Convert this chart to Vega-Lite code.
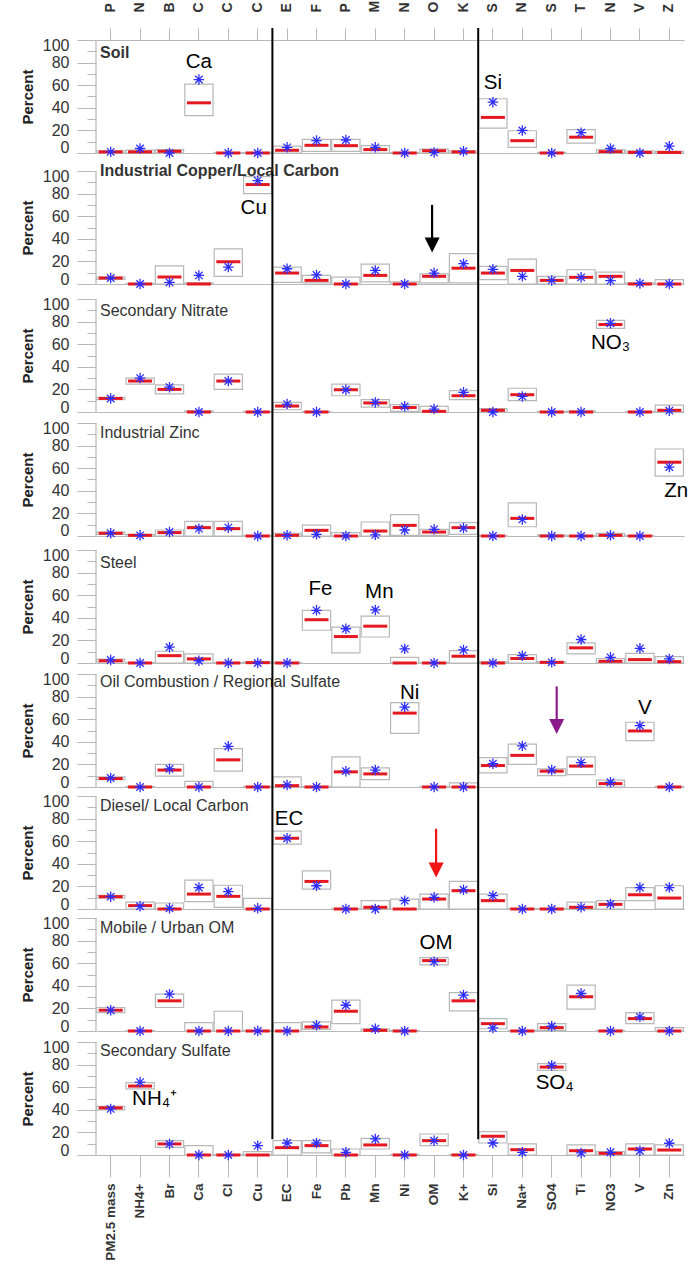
{
"$schema": "https://vega.github.io/schema/vega-lite/v6.json",
"padding": {"left": 20, "top": 0, "right": 8, "bottom": 6},
"spacing": 0,
"bounds": "flush",
"config": {"font": "Liberation Sans", "view": {"stroke": null},
 "axis": {"domainColor": "#b8b8b8", "tickColor": "#b8b8b8", "labelColor": "#333333", "titleColor": "#222222"},
 "axisY": {"labelPadding": 8, "titleFontSize": 15, "titleFontWeight": "bold", "titlePadding": 7, "labelOverlap": false, "tickCount": 30},
 "axisX": {"labelFontWeight": "bold", "labelAngle": 270, "labelOverlap": false, "labelLimit": 300}},
"datasets": {"p": [
{"s":"soil","el":"PM2.5 mass","lo":0,"hi":2,"med":1,"pt":1},
{"s":"soil","el":"NH4+","lo":0,"hi":2.5,"med":1,"pt":4},
{"s":"soil","el":"Br","lo":0,"hi":3,"med":1.5,"pt":0},
{"s":"soil","el":"Ca","lo":33,"hi":61,"med":44.4,"pt":65},
{"s":"soil","el":"Cl","lo":0,"hi":0.5,"med":0,"pt":0},
{"s":"soil","el":"Cu","lo":0,"hi":0.5,"med":0,"pt":0},
{"s":"soil","el":"EC","lo":0,"hi":6,"med":2.4,"pt":5},
{"s":"soil","el":"Fe","lo":1.5,"hi":12,"med":6.8,"pt":11},
{"s":"soil","el":"Pb","lo":1.5,"hi":12,"med":6.5,"pt":11.5},
{"s":"soil","el":"Mn","lo":0,"hi":6.5,"med":3,"pt":5},
{"s":"soil","el":"Ni","lo":0,"hi":0.5,"med":0,"pt":0},
{"s":"soil","el":"OM","lo":0,"hi":3.5,"med":2,"pt":0.5},
{"s":"soil","el":"K+","lo":0,"hi":2,"med":1,"pt":1.5},
{"s":"soil","el":"Si","lo":22,"hi":48,"med":31.5,"pt":45},
{"s":"soil","el":"Na+","lo":5,"hi":19.7,"med":10.9,"pt":20},
{"s":"soil","el":"SO4","lo":0,"hi":0.5,"med":0,"pt":0},
{"s":"soil","el":"Ti","lo":8.8,"hi":20.6,"med":14,"pt":18},
{"s":"soil","el":"NO3","lo":0,"hi":3,"med":1.2,"pt":4},
{"s":"soil","el":"V","lo":0,"hi":2,"med":0.5,"pt":0},
{"s":"soil","el":"Zn","lo":0,"hi":1.5,"med":0.5,"pt":6},
{"s":"cu","el":"PM2.5 mass","lo":4,"hi":6,"med":5.3,"pt":5.3},
{"s":"cu","el":"NH4+","lo":0,"hi":0.5,"med":0,"pt":0},
{"s":"cu","el":"Br","lo":0,"hi":16,"med":6.2,"pt":1.5},
{"s":"cu","el":"Ca","lo":0,"hi":1,"med":0,"pt":7.6},
{"s":"cu","el":"Cl","lo":6.8,"hi":31,"med":19.7,"pt":15},
{"s":"cu","el":"Cu","lo":80,"hi":95,"med":88,"pt":91.5},
{"s":"cu","el":"EC","lo":1.5,"hi":15,"med":9.7,"pt":13.5},
{"s":"cu","el":"Fe","lo":1,"hi":7.6,"med":3.2,"pt":8},
{"s":"cu","el":"Pb","lo":0,"hi":6,"med":0,"pt":0},
{"s":"cu","el":"Mn","lo":1.8,"hi":17.6,"med":7.6,"pt":12},
{"s":"cu","el":"Ni","lo":0,"hi":2,"med":0,"pt":0},
{"s":"cu","el":"OM","lo":1,"hi":9,"med":6.8,"pt":9.7},
{"s":"cu","el":"K+","lo":1,"hi":26.8,"med":14,"pt":18},
{"s":"cu","el":"Si","lo":3.8,"hi":15.6,"med":9.7,"pt":13},
{"s":"cu","el":"Na+","lo":0,"hi":22,"med":12,"pt":6.8},
{"s":"cu","el":"SO4","lo":0,"hi":6.8,"med":3.2,"pt":3.2},
{"s":"cu","el":"Ti","lo":0,"hi":12.6,"med":5.9,"pt":5.9},
{"s":"cu","el":"NO3","lo":0,"hi":10.6,"med":6.8,"pt":3},
{"s":"cu","el":"V","lo":0,"hi":1,"med":0,"pt":0.5},
{"s":"cu","el":"Zn","lo":0,"hi":3.8,"med":0,"pt":0},
{"s":"no3","el":"PM2.5 mass","lo":11,"hi":13,"med":12,"pt":12},
{"s":"no3","el":"NH4+","lo":24.7,"hi":30,"med":27.4,"pt":30},
{"s":"no3","el":"Br","lo":16,"hi":24,"med":20,"pt":22},
{"s":"no3","el":"Ca","lo":0,"hi":1,"med":0,"pt":0},
{"s":"no3","el":"Cl","lo":20,"hi":33.5,"med":27.4,"pt":27.4},
{"s":"no3","el":"Cu","lo":0,"hi":0.5,"med":0,"pt":0},
{"s":"no3","el":"EC","lo":2,"hi":8.5,"med":5.3,"pt":7},
{"s":"no3","el":"Fe","lo":0,"hi":0.5,"med":0,"pt":0},
{"s":"no3","el":"Pb","lo":14.4,"hi":24.7,"med":19.7,"pt":19.7},
{"s":"no3","el":"Mn","lo":4.4,"hi":11,"med":8,"pt":8.5},
{"s":"no3","el":"Ni","lo":0.6,"hi":6.5,"med":4,"pt":5},
{"s":"no3","el":"OM","lo":0,"hi":5,"med":0.6,"pt":2.6},
{"s":"no3","el":"K+","lo":11,"hi":19,"med":14.4,"pt":17.4},
{"s":"no3","el":"Si","lo":0,"hi":3,"med":1.5,"pt":0},
{"s":"no3","el":"Na+","lo":10,"hi":21,"med":15.3,"pt":13.8},
{"s":"no3","el":"SO4","lo":0,"hi":0.5,"med":0,"pt":0},
{"s":"no3","el":"Ti","lo":0,"hi":1,"med":0,"pt":0},
{"s":"no3","el":"NO3","lo":74,"hi":81,"med":77.4,"pt":78.5},
{"s":"no3","el":"V","lo":0,"hi":0.5,"med":0,"pt":0},
{"s":"no3","el":"Zn","lo":0,"hi":6,"med":1.5,"pt":1.2},
{"s":"zn","el":"PM2.5 mass","lo":1.5,"hi":3.5,"med":2.4,"pt":2.4},
{"s":"zn","el":"NH4+","lo":0,"hi":1.5,"med":0.6,"pt":0.6},
{"s":"zn","el":"Br","lo":0,"hi":5.3,"med":3,"pt":3.5},
{"s":"zn","el":"Ca","lo":0,"hi":13,"med":7.4,"pt":6.5},
{"s":"zn","el":"Cl","lo":0,"hi":13,"med":6.5,"pt":7.4},
{"s":"zn","el":"Cu","lo":0,"hi":0.5,"med":0,"pt":0},
{"s":"zn","el":"EC","lo":0,"hi":2.4,"med":0.6,"pt":0.6},
{"s":"zn","el":"Fe","lo":0,"hi":9.7,"med":5,"pt":1.5},
{"s":"zn","el":"Pb","lo":0,"hi":3,"med":0,"pt":0},
{"s":"zn","el":"Mn","lo":0,"hi":12.4,"med":4.4,"pt":1},
{"s":"zn","el":"Ni","lo":0.6,"hi":19,"med":9.4,"pt":5.3},
{"s":"zn","el":"OM","lo":0.6,"hi":5.9,"med":3.5,"pt":5.9},
{"s":"zn","el":"K+","lo":1.5,"hi":11.8,"med":7.4,"pt":7},
{"s":"zn","el":"Si","lo":0,"hi":0.5,"med":0,"pt":0},
{"s":"zn","el":"Na+","lo":8.2,"hi":29.4,"med":15.6,"pt":14.7},
{"s":"zn","el":"SO4","lo":0,"hi":1,"med":0,"pt":0},
{"s":"zn","el":"Ti","lo":0,"hi":0.5,"med":0,"pt":0},
{"s":"zn","el":"NO3","lo":0,"hi":2.4,"med":0.6,"pt":0.6},
{"s":"zn","el":"V","lo":0,"hi":0.5,"med":0,"pt":0},
{"s":"zn","el":"Zn","lo":53,"hi":77,"med":65.3,"pt":61},
{"s":"steel","el":"PM2.5 mass","lo":1,"hi":3.5,"med":2,"pt":2.7},
{"s":"steel","el":"NH4+","lo":0,"hi":0.5,"med":0,"pt":0},
{"s":"steel","el":"Br","lo":0,"hi":10.4,"med":6.5,"pt":14},
{"s":"steel","el":"Ca","lo":0,"hi":8,"med":3.6,"pt":2},
{"s":"steel","el":"Cl","lo":0,"hi":0.5,"med":0,"pt":0},
{"s":"steel","el":"Cu","lo":0,"hi":1,"med":0.3,"pt":0},
{"s":"steel","el":"EC","lo":0,"hi":0.5,"med":0,"pt":0},
{"s":"steel","el":"Fe","lo":29,"hi":46.6,"med":38.3,"pt":46.6},
{"s":"steel","el":"Pb","lo":9,"hi":31.8,"med":23.4,"pt":30.3},
{"s":"steel","el":"Mn","lo":23,"hi":41.5,"med":32.6,"pt":47},
{"s":"steel","el":"Ni","lo":0,"hi":5,"med":0,"pt":12.5},
{"s":"steel","el":"OM","lo":0,"hi":0.5,"med":0,"pt":0},
{"s":"steel","el":"K+","lo":0,"hi":11,"med":6,"pt":11.6},
{"s":"steel","el":"Si","lo":0,"hi":1,"med":0,"pt":0},
{"s":"steel","el":"Na+","lo":0,"hi":7.4,"med":4,"pt":6.5},
{"s":"steel","el":"SO4","lo":0,"hi":1,"med":0.6,"pt":0.6},
{"s":"steel","el":"Ti","lo":8,"hi":17.8,"med":13.4,"pt":20.8},
{"s":"steel","el":"NO3","lo":0,"hi":4,"med":1.5,"pt":5},
{"s":"steel","el":"V","lo":0,"hi":8.6,"med":3,"pt":13},
{"s":"steel","el":"Zn","lo":0,"hi":5.6,"med":1.2,"pt":3.6},
{"s":"oil","el":"PM2.5 mass","lo":6.5,"hi":9,"med":7.5,"pt":8},
{"s":"oil","el":"NH4+","lo":0,"hi":0.5,"med":0,"pt":0},
{"s":"oil","el":"Br","lo":9.6,"hi":20,"med":15,"pt":16},
{"s":"oil","el":"Ca","lo":0,"hi":5,"med":0,"pt":0},
{"s":"oil","el":"Cl","lo":14,"hi":34,"med":24,"pt":36},
{"s":"oil","el":"Cu","lo":0,"hi":0.5,"med":0,"pt":0},
{"s":"oil","el":"EC","lo":0,"hi":9,"med":1.2,"pt":1.8},
{"s":"oil","el":"Fe","lo":0,"hi":0.5,"med":0,"pt":0},
{"s":"oil","el":"Pb","lo":0,"hi":26.6,"med":13.4,"pt":14},
{"s":"oil","el":"Mn","lo":6.6,"hi":17,"med":11.6,"pt":15},
{"s":"oil","el":"Ni","lo":47.5,"hi":74.6,"med":65.4,"pt":70.7},
{"s":"oil","el":"OM","lo":0,"hi":0.5,"med":0,"pt":0},
{"s":"oil","el":"K+","lo":0,"hi":3.6,"med":0,"pt":0},
{"s":"oil","el":"Si","lo":12.5,"hi":26,"med":19,"pt":20.6},
{"s":"oil","el":"Na+","lo":20,"hi":38,"med":28,"pt":36.4},
{"s":"oil","el":"SO4","lo":10,"hi":16,"med":14,"pt":15},
{"s":"oil","el":"Ti","lo":11,"hi":26.6,"med":18.5,"pt":21.5},
{"s":"oil","el":"NO3","lo":0,"hi":6,"med":3,"pt":4.2},
{"s":"oil","el":"V","lo":41,"hi":57.3,"med":49.6,"pt":54.3},
{"s":"oil","el":"Zn","lo":0,"hi":0.5,"med":0,"pt":0},
{"s":"diesel","el":"PM2.5 mass","lo":9.5,"hi":12,"med":10.9,"pt":10.9},
{"s":"diesel","el":"NH4+","lo":0,"hi":6,"med":3,"pt":2.4},
{"s":"diesel","el":"Br","lo":0,"hi":5.3,"med":0,"pt":0.6},
{"s":"diesel","el":"Ca","lo":6.5,"hi":25.6,"med":13.2,"pt":19},
{"s":"diesel","el":"Cl","lo":1.5,"hi":21,"med":11.2,"pt":15.3},
{"s":"diesel","el":"Cu","lo":0,"hi":9.4,"med":0,"pt":0.6},
{"s":"diesel","el":"EC","lo":57.4,"hi":69,"med":62.6,"pt":62.6},
{"s":"diesel","el":"Fe","lo":17.6,"hi":33.8,"med":24.4,"pt":20.6},
{"s":"diesel","el":"Pb","lo":0,"hi":0.5,"med":0,"pt":0},
{"s":"diesel","el":"Mn","lo":0,"hi":7.4,"med":1.5,"pt":0},
{"s":"diesel","el":"Ni","lo":0,"hi":8.8,"med":0,"pt":7.4},
{"s":"diesel","el":"OM","lo":0,"hi":13.2,"med":8.8,"pt":10.3},
{"s":"diesel","el":"K+","lo":0,"hi":24.4,"med":16.2,"pt":17},
{"s":"diesel","el":"Si","lo":0,"hi":13.2,"med":7.4,"pt":11.8},
{"s":"diesel","el":"Na+","lo":0,"hi":0.5,"med":0,"pt":0},
{"s":"diesel","el":"SO4","lo":0,"hi":0.5,"med":0,"pt":0},
{"s":"diesel","el":"Ti","lo":0,"hi":6,"med":1.5,"pt":1.5},
{"s":"diesel","el":"NO3","lo":0,"hi":7.4,"med":4.1,"pt":4.4},
{"s":"diesel","el":"V","lo":7.4,"hi":19,"med":12.6,"pt":19},
{"s":"diesel","el":"Zn","lo":0,"hi":20.6,"med":9.7,"pt":19},
{"s":"mobile","el":"PM2.5 mass","lo":16.3,"hi":20.8,"med":18.4,"pt":18.4},
{"s":"mobile","el":"NH4+","lo":0,"hi":0.5,"med":0,"pt":0},
{"s":"mobile","el":"Br","lo":20.8,"hi":32.6,"med":26.7,"pt":32.6},
{"s":"mobile","el":"Ca","lo":0,"hi":7.4,"med":0,"pt":0},
{"s":"mobile","el":"Cl","lo":0,"hi":17.5,"med":0,"pt":0},
{"s":"mobile","el":"Cu","lo":0,"hi":0.5,"med":0,"pt":0},
{"s":"mobile","el":"EC","lo":0,"hi":7.4,"med":0,"pt":0},
{"s":"mobile","el":"Fe","lo":1.5,"hi":8,"med":3.6,"pt":5},
{"s":"mobile","el":"Pb","lo":6.5,"hi":27.3,"med":17.5,"pt":22.8},
{"s":"mobile","el":"Mn","lo":0,"hi":2,"med":0.6,"pt":2},
{"s":"mobile","el":"Ni","lo":0,"hi":0.5,"med":0,"pt":0},
{"s":"mobile","el":"OM","lo":58.5,"hi":65,"med":62.3,"pt":61.4},
{"s":"mobile","el":"K+","lo":17.8,"hi":34,"med":26.7,"pt":31.8},
{"s":"mobile","el":"Si","lo":2,"hi":11,"med":6.5,"pt":2.7},
{"s":"mobile","el":"Na+","lo":0,"hi":0.5,"med":0,"pt":0},
{"s":"mobile","el":"SO4","lo":0.6,"hi":6.5,"med":3,"pt":4.2},
{"s":"mobile","el":"Ti","lo":19.3,"hi":40.6,"med":30.3,"pt":33.2},
{"s":"mobile","el":"NO3","lo":0,"hi":0.5,"med":0,"pt":0},
{"s":"mobile","el":"V","lo":6.5,"hi":16.3,"med":11,"pt":12.5},
{"s":"mobile","el":"Zn","lo":0,"hi":3,"med":0,"pt":0},
{"s":"so4","el":"PM2.5 mass","lo":40,"hi":43,"med":41.7,"pt":40.8},
{"s":"so4","el":"NH4+","lo":58.6,"hi":64,"med":61,"pt":64.5},
{"s":"so4","el":"Br","lo":6.8,"hi":12.7,"med":9.8,"pt":9.8},
{"s":"so4","el":"Ca","lo":0,"hi":8.3,"med":0,"pt":0},
{"s":"so4","el":"Cl","lo":0,"hi":0.5,"med":0,"pt":0},
{"s":"so4","el":"Cu","lo":0,"hi":3,"med":0,"pt":8.3},
{"s":"so4","el":"EC","lo":0,"hi":12.7,"med":6.5,"pt":10.6},
{"s":"so4","el":"Fe","lo":1.8,"hi":12.7,"med":8.3,"pt":10.6},
{"s":"so4","el":"Pb","lo":0,"hi":5.3,"med":0,"pt":2.4},
{"s":"so4","el":"Mn","lo":5.3,"hi":14.8,"med":8.9,"pt":14.2},
{"s":"so4","el":"Ni","lo":0,"hi":0.5,"med":0,"pt":0},
{"s":"so4","el":"OM","lo":8.3,"hi":18.6,"med":12.7,"pt":12.7},
{"s":"so4","el":"K+","lo":0,"hi":0.5,"med":0,"pt":0},
{"s":"so4","el":"Si","lo":10.6,"hi":20.7,"med":16.6,"pt":10.6},
{"s":"so4","el":"Na+","lo":0,"hi":9.8,"med":4.7,"pt":2.4},
{"s":"so4","el":"SO4","lo":74.9,"hi":80.8,"med":77.8,"pt":79.3},
{"s":"so4","el":"Ti","lo":0,"hi":8.9,"med":3.8,"pt":1.8},
{"s":"so4","el":"NO3","lo":0,"hi":3,"med":1.5,"pt":2.4},
{"s":"so4","el":"V","lo":0,"hi":9.8,"med":5.3,"pt":3.8},
{"s":"so4","el":"Zn","lo":0,"hi":8.9,"med":4.4,"pt":10.4}
]},
"vconcat": [
{"width": 588, "height": 131,
 "encoding": {"x": {"field": "el", "type": "nominal", "scale": {"domain": ["PM2.5 mass","NH4+","Br","Ca","Cl","Cu","EC","Fe","Pb","Mn","Ni","OM","K+","Si","Na+","SO4","Ti","NO3","V","Zn"], "paddingInner": 0, "paddingOuter": 0}, "axis": {"orient": "top", "title": null, "labelExpr": "substring(datum.label, 0, 1)", "tickSize": 12, "labelPadding": 16, "labelFontSize": 14}}},
 "layer": [
  {"data": {"name": "p"}, "transform": [{"filter": "datum.s === 'soil'"}], "layer": [
   {"mark": {"type": "bar", "width": {"band": 0.96}, "fill": "#ffffff", "fillOpacity": 0, "stroke": "#b8b8b8", "strokeWidth": 1.2}, "encoding": {"y": {"field": "hi", "type": "quantitative", "scale": {"domain": [-15.93, 100], "nice": false, "zero": false}, "axis": {"title": "Percent", "values": [0,10,20,30,40,50,60,70,80,90,100], "tickCount": 30, "labelExpr": "datum.value % 20 === 0 ? datum.label : ''", "labelFontSize": {"condition": {"test": "datum.value % 20 === 0", "value": 16}, "value": 0}, "labelOffset": {"condition": [{"test": "datum.value === 0", "value": -5}, {"test": "datum.value === 100", "value": 5}], "value": 0}, "tickSize": {"condition": {"test": "datum.value % 20 === 0", "value": 19}, "value": 9}, "domain": false, "grid": true, "gridColor": "#b8b8b8", "gridWidth": 1.2, "gridOpacity": {"condition": {"test": "datum.value === 0", "value": 1}, "value": 0}, "titleY": 56.5, "labelOverlap": false}}, "y2": {"field": "lo"}}},
   {"mark": {"type": "tick", "color": "#e4181e", "thickness": 3, "size": 24, "opacity": 1}, "encoding": {"y": {"field": "med", "type": "quantitative"}}},
   {"mark": {"type": "point", "shape": "M0,-1L0,1M-1,0L1,0M-0.71,-0.71L0.71,0.71M-0.71,0.71L0.71,-0.71", "filled": false, "color": "#2f2fff", "strokeWidth": 1.3, "size": 110, "opacity": 1}, "encoding": {"y": {"field": "pt", "type": "quantitative"}}}
  ]},
  {"data": {"values": [{"el": "PM2.5 mass"}]}, "mark": {"type": "rule", "color": "#b8b8b8", "strokeWidth": 1.2}, "encoding": {"x": {"field": "el", "type": "nominal", "bandPosition": 0}, "y": {"datum": 0}, "y2": {"datum": 100}}},
  {"data": {"values": [{"el": "PM2.5 mass", "t": "Soil"}]}, "mark": {"type": "text", "align": "left", "baseline": "middle", "dx": 4, "fontSize": 16, "fontWeight": "bold", "color": "#333333"}, "encoding": {"x": {"field": "el", "type": "nominal", "bandPosition": 0}, "y": {"datum": 88.5}, "text": {"field": "t"}}},
  {"data": {"values": [{"el": "Ca", "t": "Ca"}]}, "mark": {"type": "text", "baseline": "middle", "fontSize": 20.5, "color": "#000000"}, "encoding": {"y": {"datum": 80.5}, "text": {"field": "t"}}},
  {"data": {"values": [{"el": "Si", "t": "Si"}]}, "mark": {"type": "text", "baseline": "middle", "fontSize": 20.5, "color": "#000000"}, "encoding": {"y": {"datum": 62}, "text": {"field": "t"}}},
  {"data": {"values": [{"el": "Cu"}, {"el": "K+"}]}, "mark": {"type": "rule", "color": "#000000", "strokeWidth": 2}, "encoding": {"x": {"field": "el", "type": "nominal", "bandPosition": 1}, "y": {"datum": 110.6}, "y2": {"datum": -15.93}}}
 ]},
{"width": 588, "height": 128,
 "encoding": {"x": {"field": "el", "type": "nominal", "scale": {"domain": ["PM2.5 mass","NH4+","Br","Ca","Cl","Cu","EC","Fe","Pb","Mn","Ni","OM","K+","Si","Na+","SO4","Ti","NO3","V","Zn"], "paddingInner": 0, "paddingOuter": 0}, "axis": null}},
 "layer": [
  {"data": {"name": "p"}, "transform": [{"filter": "datum.s === 'cu'"}], "layer": [
   {"mark": {"type": "bar", "width": {"band": 0.96}, "fill": "#ffffff", "fillOpacity": 0, "stroke": "#b8b8b8", "strokeWidth": 1.2}, "encoding": {"y": {"field": "hi", "type": "quantitative", "scale": {"domain": [-13.27, 100], "nice": false, "zero": false}, "axis": {"title": "Percent", "values": [0,10,20,30,40,50,60,70,80,90,100], "tickCount": 30, "labelExpr": "datum.value % 20 === 0 ? datum.label : ''", "labelFontSize": {"condition": {"test": "datum.value % 20 === 0", "value": 16}, "value": 0}, "labelOffset": {"condition": [{"test": "datum.value === 0", "value": -5}, {"test": "datum.value === 100", "value": 5}], "value": 0}, "tickSize": {"condition": {"test": "datum.value % 20 === 0", "value": 19}, "value": 9}, "domain": false, "grid": true, "gridColor": "#b8b8b8", "gridWidth": 1.2, "gridOpacity": {"condition": {"test": "datum.value === 0", "value": 1}, "value": 0}, "titleY": 56.5, "labelOverlap": false}}, "y2": {"field": "lo"}}},
   {"mark": {"type": "tick", "color": "#e4181e", "thickness": 3, "size": 24, "opacity": 1}, "encoding": {"y": {"field": "med", "type": "quantitative"}}},
   {"mark": {"type": "point", "shape": "M0,-1L0,1M-1,0L1,0M-0.71,-0.71L0.71,0.71M-0.71,0.71L0.71,-0.71", "filled": false, "color": "#2f2fff", "strokeWidth": 1.3, "size": 110, "opacity": 1}, "encoding": {"y": {"field": "pt", "type": "quantitative"}}}
  ]},
  {"data": {"values": [{"el": "PM2.5 mass"}]}, "mark": {"type": "rule", "color": "#b8b8b8", "strokeWidth": 1.2}, "encoding": {"x": {"field": "el", "type": "nominal", "bandPosition": 0}, "y": {"datum": 0}, "y2": {"datum": 100}}},
  {"data": {"values": [{"el": "PM2.5 mass", "t": "Industrial Copper/Local Carbon"}]}, "mark": {"type": "text", "align": "left", "baseline": "middle", "dx": 4, "fontSize": 16, "fontWeight": "bold", "color": "#333333"}, "encoding": {"x": {"field": "el", "type": "nominal", "bandPosition": 0}, "y": {"datum": 100}, "text": {"field": "t"}}},
  {"data": {"values": [{"el": "Cu", "t": "Cu"}]}, "mark": {"type": "text", "baseline": "middle", "dx": -4, "fontSize": 20.5, "color": "#000000"}, "encoding": {"y": {"datum": 67}, "text": {"field": "t"}}},
  {"data": {"values": [{"el": "Cu"}, {"el": "K+"}]}, "mark": {"type": "rule", "color": "#000000", "strokeWidth": 2}, "encoding": {"x": {"field": "el", "type": "nominal", "bandPosition": 1}, "y": {"datum": 100}, "y2": {"datum": -13.27}}},
  {"data": {"values": [{"el": "OM"}]}, "layer": [
   {"mark": {"type": "rule", "color": "#000000", "strokeWidth": 2.2, "xOffset": -2}, "encoding": {"y": {"datum": 70}, "y2": {"datum": 38}}},
   {"mark": {"type": "point", "shape": "M-1,-1L1,-1L0,1Z", "filled": true, "color": "#000000", "size": 225, "opacity": 1, "xOffset": -2}, "encoding": {"y": {"datum": 34.6}}}
  ]}
 ]},
{"width": 588, "height": 124,
 "encoding": {"x": {"field": "el", "type": "nominal", "scale": {"domain": ["PM2.5 mass","NH4+","Br","Ca","Cl","Cu","EC","Fe","Pb","Mn","Ni","OM","K+","Si","Na+","SO4","Ti","NO3","V","Zn"], "paddingInner": 0, "paddingOuter": 0}, "axis": null}},
 "layer": [
  {"data": {"name": "p"}, "transform": [{"filter": "datum.s === 'no3'"}], "layer": [
   {"mark": {"type": "bar", "width": {"band": 0.96}, "fill": "#ffffff", "fillOpacity": 0, "stroke": "#b8b8b8", "strokeWidth": 1.2}, "encoding": {"y": {"field": "hi", "type": "quantitative", "scale": {"domain": [-9.73, 100], "nice": false, "zero": false}, "axis": {"title": "Percent", "values": [0,10,20,30,40,50,60,70,80,90,100], "tickCount": 30, "labelExpr": "datum.value % 20 === 0 ? datum.label : ''", "labelFontSize": {"condition": {"test": "datum.value % 20 === 0", "value": 16}, "value": 0}, "labelOffset": {"condition": [{"test": "datum.value === 0", "value": -5}, {"test": "datum.value === 100", "value": 5}], "value": 0}, "tickSize": {"condition": {"test": "datum.value % 20 === 0", "value": 19}, "value": 9}, "domain": false, "grid": true, "gridColor": "#b8b8b8", "gridWidth": 1.2, "gridOpacity": {"condition": {"test": "datum.value === 0", "value": 1}, "value": 0}, "titleY": 56.5, "labelOverlap": false}}, "y2": {"field": "lo"}}},
   {"mark": {"type": "tick", "color": "#e4181e", "thickness": 3, "size": 24, "opacity": 1}, "encoding": {"y": {"field": "med", "type": "quantitative"}}},
   {"mark": {"type": "point", "shape": "M0,-1L0,1M-1,0L1,0M-0.71,-0.71L0.71,0.71M-0.71,0.71L0.71,-0.71", "filled": false, "color": "#2f2fff", "strokeWidth": 1.3, "size": 110, "opacity": 1}, "encoding": {"y": {"field": "pt", "type": "quantitative"}}}
  ]},
  {"data": {"values": [{"el": "PM2.5 mass"}]}, "mark": {"type": "rule", "color": "#b8b8b8", "strokeWidth": 1.2}, "encoding": {"x": {"field": "el", "type": "nominal", "bandPosition": 0}, "y": {"datum": 0}, "y2": {"datum": 100}}},
  {"data": {"values": [{"el": "PM2.5 mass", "t": "Secondary Nitrate"}]}, "mark": {"type": "text", "align": "left", "baseline": "middle", "dx": 4, "fontSize": 16, "color": "#333333"}, "encoding": {"x": {"field": "el", "type": "nominal", "bandPosition": 0}, "y": {"datum": 89.6}, "text": {"field": "t"}}},
  {"data": {"values": [{"el": "NO3", "t": "NO₃"}]}, "mark": {"type": "text", "baseline": "middle", "fontSize": 20.5, "color": "#000000"}, "encoding": {"y": {"datum": 61}, "text": {"field": "t"}}},
  {"data": {"values": [{"el": "Cu"}, {"el": "K+"}]}, "mark": {"type": "rule", "color": "#000000", "strokeWidth": 2}, "encoding": {"x": {"field": "el", "type": "nominal", "bandPosition": 1}, "y": {"datum": 100}, "y2": {"datum": -9.73}}}
 ]},
{"width": 588, "height": 127,
 "encoding": {"x": {"field": "el", "type": "nominal", "scale": {"domain": ["PM2.5 mass","NH4+","Br","Ca","Cl","Cu","EC","Fe","Pb","Mn","Ni","OM","K+","Si","Na+","SO4","Ti","NO3","V","Zn"], "paddingInner": 0, "paddingOuter": 0}, "axis": null}},
 "layer": [
  {"data": {"name": "p"}, "transform": [{"filter": "datum.s === 'zn'"}], "layer": [
   {"mark": {"type": "bar", "width": {"band": 0.96}, "fill": "#ffffff", "fillOpacity": 0, "stroke": "#b8b8b8", "strokeWidth": 1.2}, "encoding": {"y": {"field": "hi", "type": "quantitative", "scale": {"domain": [-12.39, 100], "nice": false, "zero": false}, "axis": {"title": "Percent", "values": [0,10,20,30,40,50,60,70,80,90,100], "tickCount": 30, "labelExpr": "datum.value % 20 === 0 ? datum.label : ''", "labelFontSize": {"condition": {"test": "datum.value % 20 === 0", "value": 16}, "value": 0}, "labelOffset": {"condition": [{"test": "datum.value === 0", "value": -5}, {"test": "datum.value === 100", "value": 5}], "value": 0}, "tickSize": {"condition": {"test": "datum.value % 20 === 0", "value": 19}, "value": 9}, "domain": false, "grid": true, "gridColor": "#b8b8b8", "gridWidth": 1.2, "gridOpacity": {"condition": {"test": "datum.value === 0", "value": 1}, "value": 0}, "titleY": 56.5, "labelOverlap": false}}, "y2": {"field": "lo"}}},
   {"mark": {"type": "tick", "color": "#e4181e", "thickness": 3, "size": 24, "opacity": 1}, "encoding": {"y": {"field": "med", "type": "quantitative"}}},
   {"mark": {"type": "point", "shape": "M0,-1L0,1M-1,0L1,0M-0.71,-0.71L0.71,0.71M-0.71,0.71L0.71,-0.71", "filled": false, "color": "#2f2fff", "strokeWidth": 1.3, "size": 110, "opacity": 1}, "encoding": {"y": {"field": "pt", "type": "quantitative"}}}
  ]},
  {"data": {"values": [{"el": "PM2.5 mass"}]}, "mark": {"type": "rule", "color": "#b8b8b8", "strokeWidth": 1.2}, "encoding": {"x": {"field": "el", "type": "nominal", "bandPosition": 0}, "y": {"datum": 0}, "y2": {"datum": 100}}},
  {"data": {"values": [{"el": "PM2.5 mass", "t": "Industrial Zinc"}]}, "mark": {"type": "text", "align": "left", "baseline": "middle", "dx": 4, "fontSize": 16, "color": "#333333"}, "encoding": {"x": {"field": "el", "type": "nominal", "bandPosition": 0}, "y": {"datum": 91.4}, "text": {"field": "t"}}},
  {"data": {"values": [{"el": "Zn", "t": "Zn"}]}, "mark": {"type": "text", "baseline": "middle", "dx": 7, "fontSize": 20.5, "color": "#000000"}, "encoding": {"y": {"datum": 40}, "text": {"field": "t"}}},
  {"data": {"values": [{"el": "Cu"}, {"el": "K+"}]}, "mark": {"type": "rule", "color": "#000000", "strokeWidth": 2}, "encoding": {"x": {"field": "el", "type": "nominal", "bandPosition": 1}, "y": {"datum": 100}, "y2": {"datum": -12.39}}}
 ]},
{"width": 588, "height": 124,
 "encoding": {"x": {"field": "el", "type": "nominal", "scale": {"domain": ["PM2.5 mass","NH4+","Br","Ca","Cl","Cu","EC","Fe","Pb","Mn","Ni","OM","K+","Si","Na+","SO4","Ti","NO3","V","Zn"], "paddingInner": 0, "paddingOuter": 0}, "axis": null}},
 "layer": [
  {"data": {"name": "p"}, "transform": [{"filter": "datum.s === 'steel'"}], "layer": [
   {"mark": {"type": "bar", "width": {"band": 0.96}, "fill": "#ffffff", "fillOpacity": 0, "stroke": "#b8b8b8", "strokeWidth": 1.2}, "encoding": {"y": {"field": "hi", "type": "quantitative", "scale": {"domain": [-9.73, 100], "nice": false, "zero": false}, "axis": {"title": "Percent", "values": [0,10,20,30,40,50,60,70,80,90,100], "tickCount": 30, "labelExpr": "datum.value % 20 === 0 ? datum.label : ''", "labelFontSize": {"condition": {"test": "datum.value % 20 === 0", "value": 16}, "value": 0}, "labelOffset": {"condition": [{"test": "datum.value === 0", "value": -5}, {"test": "datum.value === 100", "value": 5}], "value": 0}, "tickSize": {"condition": {"test": "datum.value % 20 === 0", "value": 19}, "value": 9}, "domain": false, "grid": true, "gridColor": "#b8b8b8", "gridWidth": 1.2, "gridOpacity": {"condition": {"test": "datum.value === 0", "value": 1}, "value": 0}, "titleY": 56.5, "labelOverlap": false}}, "y2": {"field": "lo"}}},
   {"mark": {"type": "tick", "color": "#e4181e", "thickness": 3, "size": 24, "opacity": 1}, "encoding": {"y": {"field": "med", "type": "quantitative"}}},
   {"mark": {"type": "point", "shape": "M0,-1L0,1M-1,0L1,0M-0.71,-0.71L0.71,0.71M-0.71,0.71L0.71,-0.71", "filled": false, "color": "#2f2fff", "strokeWidth": 1.3, "size": 110, "opacity": 1}, "encoding": {"y": {"field": "pt", "type": "quantitative"}}}
  ]},
  {"data": {"values": [{"el": "PM2.5 mass"}]}, "mark": {"type": "rule", "color": "#b8b8b8", "strokeWidth": 1.2}, "encoding": {"x": {"field": "el", "type": "nominal", "bandPosition": 0}, "y": {"datum": 0}, "y2": {"datum": 100}}},
  {"data": {"values": [{"el": "PM2.5 mass", "t": "Steel"}]}, "mark": {"type": "text", "align": "left", "baseline": "middle", "dx": 4, "fontSize": 16, "color": "#333333"}, "encoding": {"x": {"field": "el", "type": "nominal", "bandPosition": 0}, "y": {"datum": 88.5}, "text": {"field": "t"}}},
  {"data": {"values": [{"el": "Fe", "t": "Fe"}]}, "mark": {"type": "text", "baseline": "middle", "dx": 4, "fontSize": 20.5, "color": "#000000"}, "encoding": {"y": {"datum": 65.5}, "text": {"field": "t"}}},
  {"data": {"values": [{"el": "Mn", "t": "Mn"}]}, "mark": {"type": "text", "baseline": "middle", "dx": 4, "fontSize": 20.5, "color": "#000000"}, "encoding": {"y": {"datum": 63}, "text": {"field": "t"}}},
  {"data": {"values": [{"el": "Cu"}, {"el": "K+"}]}, "mark": {"type": "rule", "color": "#000000", "strokeWidth": 2}, "encoding": {"x": {"field": "el", "type": "nominal", "bandPosition": 1}, "y": {"datum": 100}, "y2": {"datum": -9.73}}}
 ]},
{"width": 588, "height": 122,
 "encoding": {"x": {"field": "el", "type": "nominal", "scale": {"domain": ["PM2.5 mass","NH4+","Br","Ca","Cl","Cu","EC","Fe","Pb","Mn","Ni","OM","K+","Si","Na+","SO4","Ti","NO3","V","Zn"], "paddingInner": 0, "paddingOuter": 0}, "axis": null}},
 "layer": [
  {"data": {"name": "p"}, "transform": [{"filter": "datum.s === 'oil'"}], "layer": [
   {"mark": {"type": "bar", "width": {"band": 0.96}, "fill": "#ffffff", "fillOpacity": 0, "stroke": "#b8b8b8", "strokeWidth": 1.2}, "encoding": {"y": {"field": "hi", "type": "quantitative", "scale": {"domain": [-7.96, 100], "nice": false, "zero": false}, "axis": {"title": "Percent", "values": [0,10,20,30,40,50,60,70,80,90,100], "tickCount": 30, "labelExpr": "datum.value % 20 === 0 ? datum.label : ''", "labelFontSize": {"condition": {"test": "datum.value % 20 === 0", "value": 16}, "value": 0}, "labelOffset": {"condition": [{"test": "datum.value === 0", "value": -5}, {"test": "datum.value === 100", "value": 5}], "value": 0}, "tickSize": {"condition": {"test": "datum.value % 20 === 0", "value": 19}, "value": 9}, "domain": false, "grid": true, "gridColor": "#b8b8b8", "gridWidth": 1.2, "gridOpacity": {"condition": {"test": "datum.value === 0", "value": 1}, "value": 0}, "titleY": 56.5, "labelOverlap": false}}, "y2": {"field": "lo"}}},
   {"mark": {"type": "tick", "color": "#e4181e", "thickness": 3, "size": 24, "opacity": 1}, "encoding": {"y": {"field": "med", "type": "quantitative"}}},
   {"mark": {"type": "point", "shape": "M0,-1L0,1M-1,0L1,0M-0.71,-0.71L0.71,0.71M-0.71,0.71L0.71,-0.71", "filled": false, "color": "#2f2fff", "strokeWidth": 1.3, "size": 110, "opacity": 1}, "encoding": {"y": {"field": "pt", "type": "quantitative"}}}
  ]},
  {"data": {"values": [{"el": "PM2.5 mass"}]}, "mark": {"type": "rule", "color": "#b8b8b8", "strokeWidth": 1.2}, "encoding": {"x": {"field": "el", "type": "nominal", "bandPosition": 0}, "y": {"datum": 0}, "y2": {"datum": 100}}},
  {"data": {"values": [{"el": "PM2.5 mass", "t": "Oil Combustion / Regional Sulfate"}]}, "mark": {"type": "text", "align": "left", "baseline": "middle", "dx": 4, "fontSize": 16, "color": "#333333"}, "encoding": {"x": {"field": "el", "type": "nominal", "bandPosition": 0}, "y": {"datum": 93}, "text": {"field": "t"}}},
  {"data": {"values": [{"el": "Ni", "t": "Ni"}]}, "mark": {"type": "text", "baseline": "middle", "dx": 5, "fontSize": 20.5, "color": "#000000"}, "encoding": {"y": {"datum": 83}, "text": {"field": "t"}}},
  {"data": {"values": [{"el": "V", "t": "V"}]}, "mark": {"type": "text", "baseline": "middle", "dx": 5, "fontSize": 20.5, "color": "#000000"}, "encoding": {"y": {"datum": 70}, "text": {"field": "t"}}},
  {"data": {"values": [{"el": "Cu"}, {"el": "K+"}]}, "mark": {"type": "rule", "color": "#000000", "strokeWidth": 2}, "encoding": {"x": {"field": "el", "type": "nominal", "bandPosition": 1}, "y": {"datum": 100}, "y2": {"datum": -7.96}}},
  {"data": {"values": [{"el": "SO4"}]}, "layer": [
   {"mark": {"type": "rule", "color": "#8b1a8b", "strokeWidth": 2.2, "xOffset": 5}, "encoding": {"y": {"datum": 89}, "y2": {"datum": 57}}},
   {"mark": {"type": "point", "shape": "M-1,-1L1,-1L0,1Z", "filled": true, "color": "#8b1a8b", "size": 225, "opacity": 1, "xOffset": 5}, "encoding": {"y": {"datum": 53.6}}}
  ]}
 ]},
{"width": 588, "height": 122,
 "encoding": {"x": {"field": "el", "type": "nominal", "scale": {"domain": ["PM2.5 mass","NH4+","Br","Ca","Cl","Cu","EC","Fe","Pb","Mn","Ni","OM","K+","Si","Na+","SO4","Ti","NO3","V","Zn"], "paddingInner": 0, "paddingOuter": 0}, "axis": null}},
 "layer": [
  {"data": {"name": "p"}, "transform": [{"filter": "datum.s === 'diesel'"}], "layer": [
   {"mark": {"type": "bar", "width": {"band": 0.96}, "fill": "#ffffff", "fillOpacity": 0, "stroke": "#b8b8b8", "strokeWidth": 1.2}, "encoding": {"y": {"field": "hi", "type": "quantitative", "scale": {"domain": [-7.96, 100], "nice": false, "zero": false}, "axis": {"title": "Percent", "values": [0,10,20,30,40,50,60,70,80,90,100], "tickCount": 30, "labelExpr": "datum.value % 20 === 0 ? datum.label : ''", "labelFontSize": {"condition": {"test": "datum.value % 20 === 0", "value": 16}, "value": 0}, "labelOffset": {"condition": [{"test": "datum.value === 0", "value": -5}, {"test": "datum.value === 100", "value": 5}], "value": 0}, "tickSize": {"condition": {"test": "datum.value % 20 === 0", "value": 19}, "value": 9}, "domain": false, "grid": true, "gridColor": "#b8b8b8", "gridWidth": 1.2, "gridOpacity": {"condition": {"test": "datum.value === 0", "value": 1}, "value": 0}, "titleY": 56.5, "labelOverlap": false}}, "y2": {"field": "lo"}}},
   {"mark": {"type": "tick", "color": "#e4181e", "thickness": 3, "size": 24, "opacity": 1}, "encoding": {"y": {"field": "med", "type": "quantitative"}}},
   {"mark": {"type": "point", "shape": "M0,-1L0,1M-1,0L1,0M-0.71,-0.71L0.71,0.71M-0.71,0.71L0.71,-0.71", "filled": false, "color": "#2f2fff", "strokeWidth": 1.3, "size": 110, "opacity": 1}, "encoding": {"y": {"field": "pt", "type": "quantitative"}}}
  ]},
  {"data": {"values": [{"el": "PM2.5 mass"}]}, "mark": {"type": "rule", "color": "#b8b8b8", "strokeWidth": 1.2}, "encoding": {"x": {"field": "el", "type": "nominal", "bandPosition": 0}, "y": {"datum": 0}, "y2": {"datum": 100}}},
  {"data": {"values": [{"el": "PM2.5 mass", "t": "Diesel/ Local Carbon"}]}, "mark": {"type": "text", "align": "left", "baseline": "middle", "dx": 4, "fontSize": 16, "color": "#333333"}, "encoding": {"x": {"field": "el", "type": "nominal", "bandPosition": 0}, "y": {"datum": 91}, "text": {"field": "t"}}},
  {"data": {"values": [{"el": "EC", "t": "EC"}]}, "mark": {"type": "text", "baseline": "middle", "dx": 2, "fontSize": 20.5, "color": "#000000"}, "encoding": {"y": {"datum": 80}, "text": {"field": "t"}}},
  {"data": {"values": [{"el": "Cu"}, {"el": "K+"}]}, "mark": {"type": "rule", "color": "#000000", "strokeWidth": 2}, "encoding": {"x": {"field": "el", "type": "nominal", "bandPosition": 1}, "y": {"datum": 100}, "y2": {"datum": -7.96}}},
  {"data": {"values": [{"el": "OM"}]}, "layer": [
   {"mark": {"type": "rule", "color": "#f01414", "strokeWidth": 2.2, "xOffset": 2}, "encoding": {"y": {"datum": 71}, "y2": {"datum": 38}}},
   {"mark": {"type": "point", "shape": "M-1,-1L1,-1L0,1Z", "filled": true, "color": "#f01414", "size": 225, "opacity": 1, "xOffset": 2}, "encoding": {"y": {"datum": 34.6}}}
  ]}
 ]},
{"width": 588, "height": 124,
 "encoding": {"x": {"field": "el", "type": "nominal", "scale": {"domain": ["PM2.5 mass","NH4+","Br","Ca","Cl","Cu","EC","Fe","Pb","Mn","Ni","OM","K+","Si","Na+","SO4","Ti","NO3","V","Zn"], "paddingInner": 0, "paddingOuter": 0}, "axis": null}},
 "layer": [
  {"data": {"name": "p"}, "transform": [{"filter": "datum.s === 'mobile'"}], "layer": [
   {"mark": {"type": "bar", "width": {"band": 0.96}, "fill": "#ffffff", "fillOpacity": 0, "stroke": "#b8b8b8", "strokeWidth": 1.2}, "encoding": {"y": {"field": "hi", "type": "quantitative", "scale": {"domain": [-9.73, 100], "nice": false, "zero": false}, "axis": {"title": "Percent", "values": [0,10,20,30,40,50,60,70,80,90,100], "tickCount": 30, "labelExpr": "datum.value % 20 === 0 ? datum.label : ''", "labelFontSize": {"condition": {"test": "datum.value % 20 === 0", "value": 16}, "value": 0}, "labelOffset": {"condition": [{"test": "datum.value === 0", "value": -5}, {"test": "datum.value === 100", "value": 5}], "value": 0}, "tickSize": {"condition": {"test": "datum.value % 20 === 0", "value": 19}, "value": 9}, "domain": false, "grid": true, "gridColor": "#b8b8b8", "gridWidth": 1.2, "gridOpacity": {"condition": {"test": "datum.value === 0", "value": 1}, "value": 0}, "titleY": 56.5, "labelOverlap": false}}, "y2": {"field": "lo"}}},
   {"mark": {"type": "tick", "color": "#e4181e", "thickness": 3, "size": 24, "opacity": 1}, "encoding": {"y": {"field": "med", "type": "quantitative"}}},
   {"mark": {"type": "point", "shape": "M0,-1L0,1M-1,0L1,0M-0.71,-0.71L0.71,0.71M-0.71,0.71L0.71,-0.71", "filled": false, "color": "#2f2fff", "strokeWidth": 1.3, "size": 110, "opacity": 1}, "encoding": {"y": {"field": "pt", "type": "quantitative"}}}
  ]},
  {"data": {"values": [{"el": "PM2.5 mass"}]}, "mark": {"type": "rule", "color": "#b8b8b8", "strokeWidth": 1.2}, "encoding": {"x": {"field": "el", "type": "nominal", "bandPosition": 0}, "y": {"datum": 0}, "y2": {"datum": 100}}},
  {"data": {"values": [{"el": "PM2.5 mass", "t": "Mobile / Urban OM"}]}, "mark": {"type": "text", "align": "left", "baseline": "middle", "dx": 4, "fontSize": 16, "color": "#333333"}, "encoding": {"x": {"field": "el", "type": "nominal", "bandPosition": 0}, "y": {"datum": 91}, "text": {"field": "t"}}},
  {"data": {"values": [{"el": "OM", "t": "OM"}]}, "mark": {"type": "text", "baseline": "middle", "dx": 2, "fontSize": 20.5, "color": "#000000"}, "encoding": {"y": {"datum": 77.6}, "text": {"field": "t"}}},
  {"data": {"values": [{"el": "Cu"}, {"el": "K+"}]}, "mark": {"type": "rule", "color": "#000000", "strokeWidth": 2}, "encoding": {"x": {"field": "el", "type": "nominal", "bandPosition": 1}, "y": {"datum": 100}, "y2": {"datum": -9.73}}}
 ]},
{"width": 588, "height": 113,
 "encoding": {"x": {"field": "el", "type": "nominal", "scale": {"domain": ["PM2.5 mass","NH4+","Br","Ca","Cl","Cu","EC","Fe","Pb","Mn","Ni","OM","K+","Si","Na+","SO4","Ti","NO3","V","Zn"], "paddingInner": 0, "paddingOuter": 0}, "axis": {"orient": "bottom", "title": null, "tickSize": 22, "labelPadding": 6, "labelFontSize": 13.5}}},
 "layer": [
  {"data": {"name": "p"}, "transform": [{"filter": "datum.s === 'so4'"}], "layer": [
   {"mark": {"type": "bar", "width": {"band": 0.96}, "fill": "#ffffff", "fillOpacity": 0, "stroke": "#b8b8b8", "strokeWidth": 1.2}, "encoding": {"y": {"field": "hi", "type": "quantitative", "scale": {"domain": [0, 100], "nice": false, "zero": false}, "axis": {"title": "Percent", "values": [0,10,20,30,40,50,60,70,80,90,100], "tickCount": 30, "labelExpr": "datum.value % 20 === 0 ? datum.label : ''", "labelFontSize": {"condition": {"test": "datum.value % 20 === 0", "value": 16}, "value": 0}, "labelOffset": {"condition": [{"test": "datum.value === 0", "value": -5}, {"test": "datum.value === 100", "value": 5}], "value": 0}, "tickSize": {"condition": {"test": "datum.value % 20 === 0", "value": 19}, "value": 9}, "domain": false, "grid": true, "gridColor": "#b8b8b8", "gridWidth": 1.2, "gridOpacity": {"condition": {"test": "datum.value === 0", "value": 1}, "value": 0}, "titleY": 56.5, "labelOverlap": false}}, "y2": {"field": "lo"}}},
   {"mark": {"type": "tick", "color": "#e4181e", "thickness": 3, "size": 24, "opacity": 1}, "encoding": {"y": {"field": "med", "type": "quantitative"}}},
   {"mark": {"type": "point", "shape": "M0,-1L0,1M-1,0L1,0M-0.71,-0.71L0.71,0.71M-0.71,0.71L0.71,-0.71", "filled": false, "color": "#2f2fff", "strokeWidth": 1.3, "size": 110, "opacity": 1}, "encoding": {"y": {"field": "pt", "type": "quantitative"}}}
  ]},
  {"data": {"values": [{"el": "PM2.5 mass"}]}, "mark": {"type": "rule", "color": "#b8b8b8", "strokeWidth": 1.2}, "encoding": {"x": {"field": "el", "type": "nominal", "bandPosition": 0}, "y": {"datum": 0}, "y2": {"datum": 100}}},
  {"data": {"values": [{"el": "PM2.5 mass", "t": "Secondary Sulfate"}]}, "mark": {"type": "text", "align": "left", "baseline": "middle", "dx": 4, "fontSize": 16, "color": "#333333"}, "encoding": {"x": {"field": "el", "type": "nominal", "bandPosition": 0}, "y": {"datum": 92}, "text": {"field": "t"}}},
  {"data": {"values": [{"el": "SO4", "t": "SO₄"}]}, "mark": {"type": "text", "baseline": "middle", "dx": 3, "fontSize": 20.5, "color": "#000000"}, "encoding": {"y": {"datum": 64}, "text": {"field": "t"}}},
  {"data": {"values": [{"el": "NH4+", "t": "NH₄⁺"}]}, "mark": {"type": "text", "align": "left", "dx": -8, "baseline": "middle", "fontSize": 20.5, "color": "#000000"}, "encoding": {"y": {"datum": 49.6}, "text": {"field": "t"}}},
  {"data": {"values": [{"el": "Cu"}, {"el": "K+"}]}, "mark": {"type": "rule", "color": "#000000", "strokeWidth": 2}, "encoding": {"x": {"field": "el", "type": "nominal", "bandPosition": 1}, "y": {"datum": 100}, "y2": {"datum": 14}}}
 ]}
]
}
